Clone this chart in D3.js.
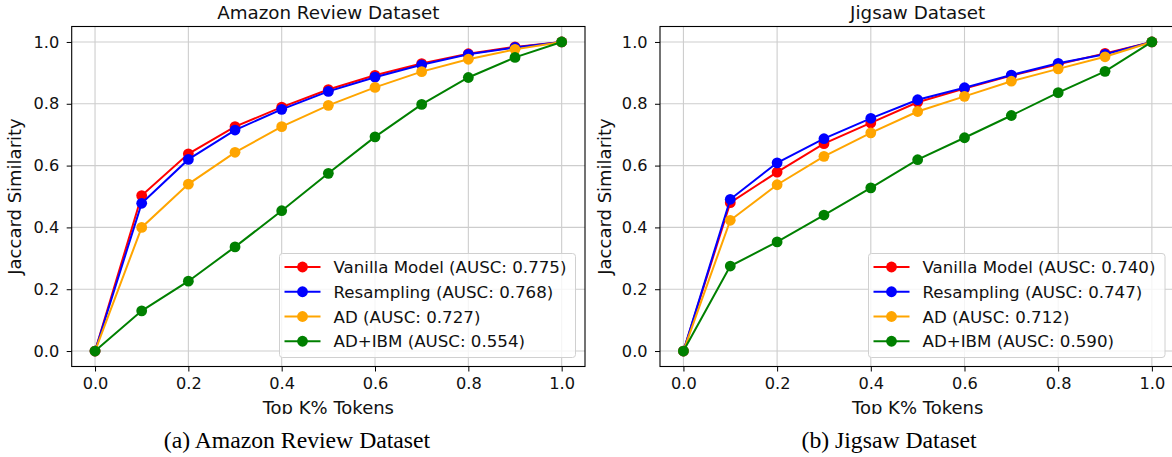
<!DOCTYPE html>
<html><head><meta charset="utf-8">
<script src="https://cdn.jsdelivr.net/npm/d3@7"></script>
<style>body{margin:0;background:#fff}svg{display:block}</style>
</head><body>
<svg id="c" width="1172" height="457"></svg>
<script>
const topK = [0, 0.1, 0.2, 0.3, 0.4, 0.5, 0.6, 0.7, 0.8, 0.9, 1.0];
const xTicks = [0.0, 0.2, 0.4, 0.6, 0.8, 1.0];
const yTicks = [0.0, 0.2, 0.4, 0.6, 0.8, 1.0];
const seriesNames = ["Vanilla Model", "Resampling", "AD", "AD+IBM"];
const seriesColors = ["#ff0000", "#0000ff", "#ffa500", "#008000"];

const amazonVanilla    = [0, 0.503, 0.638, 0.726, 0.789, 0.846, 0.892, 0.930, 0.962, 0.984, 1.0];
const amazonResampling = [0, 0.478, 0.620, 0.715, 0.782, 0.840, 0.886, 0.926, 0.960, 0.982, 1.0];
const amazonAD         = [0, 0.400, 0.540, 0.643, 0.726, 0.795, 0.853, 0.904, 0.944, 0.976, 1.0];
const amazonADIBM      = [0, 0.130, 0.226, 0.337, 0.454, 0.575, 0.693, 0.798, 0.885, 0.950, 1.0];
const amazonAUSC = ["0.775", "0.768", "0.727", "0.554"];

const jigsawVanilla    = [0, 0.480, 0.579, 0.671, 0.738, 0.805, 0.849, 0.891, 0.928, 0.963, 1.0];
const jigsawResampling = [0, 0.491, 0.609, 0.687, 0.753, 0.813, 0.852, 0.893, 0.931, 0.960, 1.0];
const jigsawAD         = [0, 0.423, 0.538, 0.630, 0.706, 0.775, 0.824, 0.873, 0.913, 0.952, 1.0];
const jigsawADIBM      = [0, 0.275, 0.353, 0.440, 0.528, 0.619, 0.690, 0.762, 0.836, 0.905, 1.0];
const jigsawAUSC = ["0.740", "0.747", "0.712", "0.590"];

const svg = d3.select("#c");
const FONT = "DejaVu Sans, sans-serif";
const SERIF = "Liberation Serif, Times New Roman, serif";

function panel(o) {
  const g = svg.append("g");
  const x = d3.scaleLinear().domain([-0.05, 1.05]).range([o.left, o.right]);
  const y = d3.scaleLinear().domain([-0.05, 1.05]).range([366.5, 26.5]);
  // grid
  g.append("g").selectAll("line").data(xTicks).join("line")
    .attr("x1", d => x(d)).attr("x2", d => x(d)).attr("y1", y(-0.05)).attr("y2", y(1.05))
    .attr("stroke", "#cdcdcd").attr("stroke-width", 1.1);
  g.append("g").selectAll("line").data(yTicks).join("line")
    .attr("y1", d => y(d)).attr("y2", d => y(d)).attr("x1", o.left).attr("x2", o.right)
    .attr("stroke", "#cdcdcd").attr("stroke-width", 1.1);
  // series
  const line = d3.line().x((d, i) => x(topK[i])).y(d => y(d));
  o.series.forEach((s, k) => {
    g.append("path").datum(s).attr("d", line).attr("fill", "none")
      .attr("stroke", seriesColors[k]).attr("stroke-width", 2);
    g.append("g").selectAll("circle").data(s).join("circle")
      .attr("cx", (d, i) => x(topK[i])).attr("cy", d => y(d)).attr("r", 5.4)
      .attr("fill", seriesColors[k]);
  });
  // axes
  const xa = g.append("g").attr("transform", `translate(0,${y(-0.05)})`)
    .call(d3.axisBottom(x).tickValues(xTicks).tickFormat(d3.format(".1f")).tickSize(5).tickPadding(6));
  const ya = g.append("g").attr("transform", `translate(${o.left},0)`)
    .call(d3.axisLeft(y).tickValues(yTicks).tickFormat(d3.format(".1f")).tickSize(5).tickPadding(7.4));
  [xa, ya].forEach(a => {
    a.select(".domain").remove();
    a.selectAll("line").attr("stroke", "#000").attr("stroke-width", 1);
    a.selectAll("text").attr("font-family", FONT).attr("font-size", 16.2).attr("fill", "#111");
  });
  // frame
  g.append("rect").attr("x", o.left).attr("y", y(1.05)).attr("width", o.right - o.left)
    .attr("height", y(-0.05) - y(1.05)).attr("fill", "none").attr("stroke", "#000").attr("stroke-width", 1.1);
  // title
  g.append("text").attr("x", (o.left + o.right) / 2).attr("y", 18.5).attr("text-anchor", "middle")
    .attr("font-family", FONT).attr("font-size", 18.3).attr("fill", "#111").text(o.title);
  // y label
  g.append("text").attr("transform", `translate(${o.ylabX},196.5) rotate(-90)`).attr("text-anchor", "middle")
    .attr("font-family", FONT).attr("font-size", 18).attr("fill", "#111").text("Jaccard Similarity");
  // x label
  g.append("text").attr("x", (o.left + o.right) / 2).attr("y", 413.5).attr("text-anchor", "middle")
    .attr("font-family", FONT).attr("font-size", 18).attr("fill", "#111").text("Top K% Tokens");
  // legend
  const lg = g.append("g");
  lg.append("rect").attr("x", o.legX).attr("y", 253.5).attr("width", o.legW).attr("height", 104)
    .attr("rx", 3).attr("fill", "#fff").attr("fill-opacity", 0.8).attr("stroke", "#d0d0d0");
  seriesNames.forEach((n, k) => {
    const yy = 267 + k * 24.75;
    lg.append("line").attr("x1", o.legX + 5).attr("x2", o.legX + 41).attr("y1", yy).attr("y2", yy)
      .attr("stroke", seriesColors[k]).attr("stroke-width", 2);
    lg.append("circle").attr("cx", o.legX + 23).attr("cy", yy).attr("r", 5.4).attr("fill", seriesColors[k]);
    lg.append("text").attr("x", o.legX + 54).attr("y", yy + 6).attr("font-family", FONT)
      .attr("font-size", 16.67).attr("fill", "#111").text(`${n} (AUSC: ${o.ausc[k]})`);
  });
}

panel({left: 71.7, right: 585, title: "Amazon Review Dataset", ylabX: 21, legX: 279.5, legW: 296,
  series: [amazonVanilla, amazonResampling, amazonAD, amazonADIBM], ausc: amazonAUSC});
panel({left: 660, right: 1175.3, title: "Jigsaw Dataset", ylabX: 611, legX: 868.5, legW: 296.5,
  series: [jigsawVanilla, jigsawResampling, jigsawAD, jigsawADIBM], ausc: jigsawAUSC});

// caption strip covering bottom of x labels
svg.append("rect").attr("x", 0).attr("y", 414).attr("width", 1172).attr("height", 43).attr("fill", "#fff");
svg.append("text").attr("x", 297).attr("y", 448).attr("text-anchor", "middle")
  .attr("font-family", SERIF).attr("font-size", 23.7).attr("fill", "#000")
  .text("(a) Amazon Review Dataset");
svg.append("text").attr("x", 889).attr("y", 448).attr("text-anchor", "middle")
  .attr("font-family", SERIF).attr("font-size", 23.7).attr("fill", "#000")
  .text("(b) Jigsaw Dataset");
</script>
</body></html>
